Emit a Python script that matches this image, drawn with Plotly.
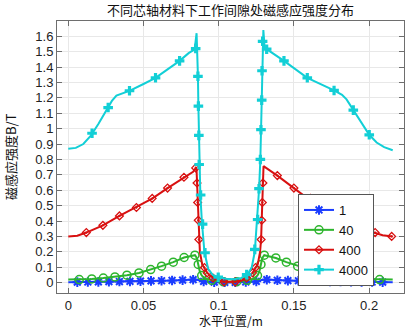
import plotly.graph_objects as go

# ---------------- data ----------------
# series "1"
s1_x = [0, 0.04, 0.07, 0.083, 0.086, 0.09, 0.1, 0.107, 0.115, 0.125, 0.129, 0.132, 0.145, 0.175, 0.2157]
s1_y = [0.002, 0.008, 0.014, 0.02, 0.018, 0.006, 0.002, 0.001, 0.002, 0.006, 0.018, 0.02, 0.014, 0.008, 0.002]
s1_mx = [0.006, 0.013, 0.020, 0.027, 0.034, 0.041, 0.048, 0.055, 0.062, 0.069, 0.076, 0.083, 0.090, 0.097,
         0.104, 0.111, 0.118, 0.125, 0.132, 0.139, 0.146, 0.153, 0.160, 0.167, 0.174, 0.181, 0.188, 0.195,
         0.202, 0.209]
s1_my = [0.003, 0.004, 0.005, 0.006, 0.007, 0.008, 0.009, 0.011, 0.012, 0.014, 0.016, 0.019, 0.008, 0.003,
         0.002, 0.002, 0.004, 0.008, 0.019, 0.015, 0.013, 0.012, 0.011, 0.009, 0.008, 0.007, 0.006, 0.005,
         0.004, 0.003]

# series "40"
s40_x = [0, 0.0073, 0.0156, 0.0233, 0.031, 0.039, 0.047, 0.0548, 0.062, 0.0698, 0.077, 0.0842, 0.0855,
         0.0864, 0.0875, 0.0887, 0.091, 0.0953, 0.1, 0.107, 0.114, 0.119, 0.1235, 0.1258, 0.127, 0.1281,
         0.129, 0.1303, 0.138, 0.145, 0.1507, 0.16, 0.168, 0.176, 0.184, 0.192, 0.199, 0.207, 0.2157]
s40_y = [0.02, 0.02, 0.024, 0.03, 0.037, 0.048, 0.063, 0.085, 0.107, 0.133, 0.163, 0.178, 0.16,
         0.118, 0.07, 0.046, 0.025, 0.015, 0.008, 0.005, 0.008, 0.015, 0.025, 0.046, 0.07, 0.118,
         0.16, 0.178, 0.16, 0.133, 0.115, 0.085, 0.063, 0.048, 0.037, 0.03, 0.024, 0.02, 0.02]
s40_mx = [0.0073, 0.0156, 0.0233, 0.031, 0.039, 0.047, 0.0548, 0.062, 0.0698, 0.077, 0.0842, 0.0864,
          0.0887, 0.0953, 0.103, 0.112, 0.119, 0.1258, 0.1281, 0.1303, 0.138, 0.145, 0.1525, 0.16,
          0.168, 0.176, 0.184, 0.192, 0.199, 0.207]
s40_my = [0.02, 0.024, 0.03, 0.037, 0.048, 0.063, 0.085, 0.107, 0.133, 0.163, 0.178, 0.118,
          0.046, 0.015, 0.006, 0.006, 0.015, 0.046, 0.118, 0.178, 0.16, 0.133, 0.107, 0.085,
          0.063, 0.048, 0.037, 0.03, 0.024, 0.02]

# series "400"
s400_x = [0, 0.006, 0.012, 0.023, 0.034, 0.045, 0.056, 0.066, 0.077, 0.083, 0.0852, 0.0856, 0.086,
          0.0864, 0.0868, 0.0875, 0.089, 0.0924, 0.0962, 0.1, 0.1035, 0.107, 0.111, 0.115, 0.119,
          0.1225, 0.126, 0.1275, 0.1282, 0.1286, 0.129, 0.1294, 0.1298, 0.139, 0.15, 0.159, 0.17,
          0.181, 0.192, 0.203, 0.209, 0.2157]
s400_y = [0.30, 0.305, 0.325, 0.372, 0.433, 0.488, 0.547, 0.614, 0.684, 0.72, 0.75, 0.65, 0.52,
          0.405, 0.28, 0.2, 0.12, 0.063, 0.03, 0.012, 0.005, 0.003, 0.005, 0.012, 0.03,
          0.063, 0.12, 0.2, 0.28, 0.405, 0.52, 0.65, 0.756, 0.695, 0.614, 0.547, 0.488,
          0.433, 0.372, 0.325, 0.308, 0.30]
s400_mx = [0.012, 0.023, 0.034, 0.0453, 0.0558, 0.066, 0.0769, 0.0847, 0.0856, 0.086, 0.0864, 0.0868,
           0.0905, 0.0924, 0.0962, 0.1035, 0.111, 0.1185, 0.1225, 0.1245, 0.1282, 0.1286, 0.129, 0.1294,
           0.139, 0.15, 0.161, 0.171, 0.182, 0.193, 0.204, 0.215]
s400_my = [0.325, 0.372, 0.433, 0.488, 0.547, 0.614, 0.684, 0.745, 0.647, 0.52, 0.405, 0.28,
           0.098, 0.063, 0.03, 0.005, 0.005, 0.03, 0.063, 0.098, 0.28, 0.405, 0.52, 0.647,
           0.695, 0.614, 0.547, 0.488, 0.433, 0.372, 0.325, 0.30]

# series "4000"
s4000_x = [0, 0.005, 0.01, 0.015, 0.02, 0.025, 0.029, 0.032, 0.036, 0.041, 0.05, 0.058, 0.066, 0.074,
           0.08, 0.084, 0.0853, 0.0858, 0.0862, 0.0865, 0.0868, 0.0872, 0.0878, 0.0888, 0.0905, 0.093,
           0.096, 0.1, 0.105, 0.11, 0.115, 0.119, 0.122, 0.124, 0.1255, 0.1268, 0.1277, 0.1282, 0.1286,
           0.129, 0.1294, 0.1297, 0.1305, 0.1319, 0.1434, 0.1589, 0.1767, 0.182, 0.185, 0.1895, 0.195,
           0.2001, 0.205, 0.21, 0.2157]
s4000_y = [0.87, 0.875, 0.90, 0.955, 1.03, 1.11, 1.18, 1.215, 1.23, 1.247, 1.29, 1.33, 1.385, 1.44,
           1.49, 1.515, 1.62, 1.52, 1.34, 1.146, 0.956, 0.7, 0.57, 0.4, 0.2, 0.09,
           0.05, 0.035, 0.025, 0.022, 0.03, 0.05, 0.1, 0.2, 0.4, 0.6, 0.8, 1.0, 1.2,
           1.4, 1.56, 1.64, 1.53, 1.516, 1.44, 1.33, 1.248, 1.22, 1.19, 1.12, 1.04,
           0.96, 0.91, 0.88, 0.86]
s4000_mx = [0.0158, 0.0265, 0.0407, 0.058, 0.074, 0.0847, 0.0862, 0.0865, 0.0868, 0.087, 0.088, 0.0893,
            0.0909, 0.0997, 0.1186, 0.124, 0.1259, 0.1268, 0.1277, 0.1281, 0.1286, 0.1288, 0.1292, 0.1319,
            0.1434, 0.1589, 0.1767, 0.1895, 0.2001]
s4000_my = [0.97, 1.137, 1.246, 1.33, 1.44, 1.52, 1.34, 1.146, 0.956, 0.767, 0.569, 0.38,
            0.194, 0.035, 0.052, 0.216, 0.41, 0.61, 0.8, 0.993, 1.185, 1.376, 1.567, 1.516,
            1.44, 1.33, 1.248, 1.12, 0.96]

names = ["1", "40", "400", "4000"]
colors = ["#1a3cff", "#2db52d", "#d81010", "#12cfd6"]

# ---------------- figure ----------------
fig = go.Figure()
series = [
    (s1_x, s1_y, s1_mx, s1_my, dict(symbol="asterisk-open", size=8, line=dict(width=2, color=colors[0]))),
    (s40_x, s40_y, s40_mx, s40_my, dict(symbol="circle-open", size=8, line=dict(width=1.5, color=colors[1]))),
    (s400_x, s400_y, s400_mx, s400_my, dict(symbol="diamond-open-dot", size=6, line=dict(width=1.3, color=colors[2]))),
    (s4000_x, s4000_y, s4000_mx, s4000_my, dict(symbol="cross", size=8, line=dict(width=0))),
]
for (lx, ly, mx, my, mk), name, col in zip(series, names, colors):
    fig.add_trace(go.Scatter(x=lx, y=ly, mode="lines", line=dict(color=col, width=2),
                             showlegend=False, hoverinfo="skip"))
    fig.add_trace(go.Scatter(x=mx, y=my, mode="markers", marker=dict(color=col, **mk),
                             showlegend=False))
for (lx, ly, mx, my, mk), name, col in zip(series, names, colors):
    fig.add_trace(go.Scatter(x=[None], y=[None], mode="lines+markers", name=name,
                             line=dict(color=col, width=2), marker=dict(color=col, **mk)))

axis_common = dict(
    showline=True, linecolor="#6e6e6e", linewidth=1, mirror="ticks",
    ticks="inside", ticklen=5, tickcolor="#6e6e6e",
    showgrid=True, gridcolor="#e8e8e8", gridwidth=1, zeroline=False,
    tickfont=dict(family="Liberation Sans, Arial, sans-serif", size=13, color="#222"),
)
fig.update_xaxes(range=[-0.0075, 0.2232], tickvals=[0, 0.05, 0.1, 0.15, 0.2],
                 ticktext=["0", "0.05", "0.1", "0.15", "0.2"], **axis_common)
ytv = [round(i * 0.1, 1) for i in range(17)]
fig.update_yaxes(range=[-0.0675, 1.699], tickvals=ytv,
                 ticktext=["0" if v == 0 else ("1" if v == 1 else str(v)) for v in ytv], **axis_common)

cjk = "Noto Sans CJK SC, Liberation Sans, sans-serif"
fig.update_layout(
    width=406, height=328,
    margin=dict(l=57, r=2, t=21, b=35, autoexpand=False),
    paper_bgcolor="white", plot_bgcolor="white",
    showlegend=True,
    legend=dict(x=0.6945, y=0.364, xanchor="left", yanchor="top",
                bgcolor="white", bordercolor="#555", borderwidth=1,
                font=dict(family="Liberation Sans, Arial, sans-serif", size=13, color="#111"),
                tracegroupgap=0, itemwidth=30),
    annotations=[
        dict(text="不同芯轴材料下工作间隙处磁感应强度分布", xref="paper", yref="paper",
             x=0.5, y=1, yshift=12, xanchor="center", yanchor="middle", showarrow=False,
             font=dict(family=cjk, size=13, color="#111")),
        dict(text="水平位置/m", xref="paper", yref="paper",
             x=0.5, y=0, yshift=-27, xanchor="center", yanchor="middle", showarrow=False,
             borderpad=0, font=dict(family=cjk, size=12, color="#111")),
        dict(text="磁感应强度B/T", xref="paper", yref="paper", textangle=-90,
             x=0, y=0.5, xshift=-47, xanchor="center", yanchor="middle", showarrow=False,
             font=dict(family=cjk, size=13, color="#111")),
    ],
)
fig.write_html("out.html", config={"displayModeBar": False},
               post_script="document.body.style.margin='0';document.body.style.overflow='hidden';")
